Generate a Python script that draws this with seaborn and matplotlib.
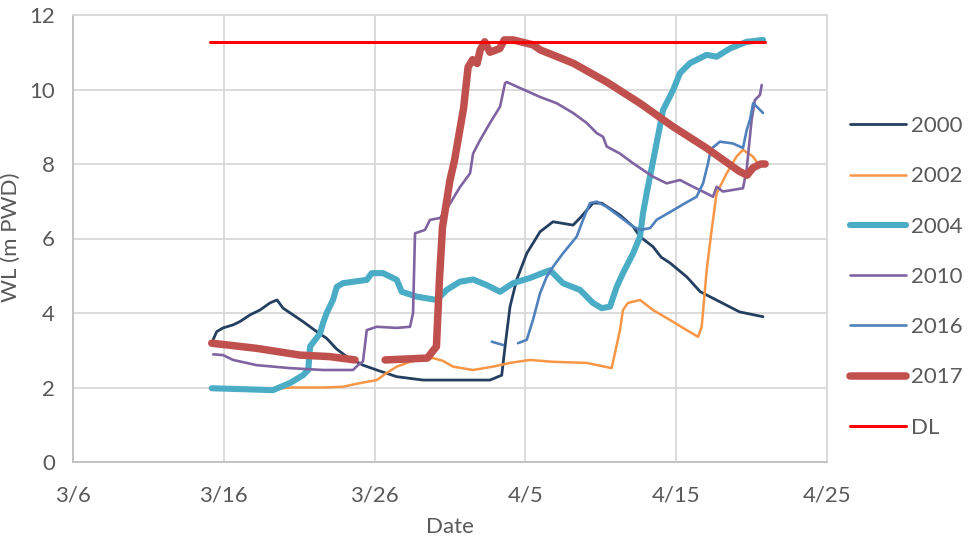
import matplotlib
matplotlib.use("Agg")
import matplotlib.pyplot as plt
import matplotlib.ticker as mticker
from matplotlib.lines import Line2D
import numpy as np
import pandas as pd
import seaborn as sns

# x values are "day of March" (April 1 = 32)
x_2000 = [15.28, 15.53, 15.95, 16.61, 17.07, 17.74, 18.4, 19.06, 19.53, 19.93, 20.59, 21.25,
          22.16, 22.82, 23.49, 24.15, 25.23, 26.14, 27.47, 29.21, 31.2, 33.65, 34.43, 34.65,
          34.98, 35.42, 36.09, 36.97, 37.83, 39.16, 39.62, 40.48, 41.06, 42.27, 43.14, 43.6,
          44.46, 45.0, 45.6, 46.7, 47.6, 48.9, 50.2, 51.76]
wl_2000 = [3.27, 3.5, 3.6, 3.68, 3.77, 3.95, 4.08, 4.27, 4.35, 4.13, 3.95, 3.77,
           3.5, 3.32, 3.03, 2.83, 2.6, 2.47, 2.29, 2.2, 2.2, 2.2, 2.33, 3.1,
           4.17, 4.89, 5.6, 6.18, 6.45, 6.36, 6.55, 6.95, 6.95, 6.63, 6.32, 6.05,
           5.78, 5.5, 5.34, 4.97, 4.57, 4.3, 4.03, 3.9]

x_2002 = [15.2, 19.3, 20.59, 22.58, 23.9, 24.81, 26.14, 26.8, 27.47, 28.35, 29.21, 29.87,
          30.5, 31.2, 32.53, 33.85, 34.98, 36.3, 37.83, 40.07, 41.72, 42.27, 42.47, 42.8,
          43.6, 44.46, 45.6, 46.7, 47.45, 47.69, 48.02, 48.35, 48.68, 49.35, 50.0, 50.43,
          51.09, 51.56]
wl_2002 = [1.97, 1.97, 2.0, 2.0, 2.02, 2.1, 2.2, 2.39, 2.56, 2.69, 2.76, 2.79,
           2.72, 2.56, 2.47, 2.56, 2.66, 2.74, 2.69, 2.66, 2.52, 3.54, 4.08, 4.27,
           4.35, 4.08, 3.81, 3.54, 3.36, 3.63, 5.15, 6.23, 7.21, 7.75, 8.2, 8.38,
           8.2, 7.93]

x_2004 = [15.2, 19.26, 20.39, 21.25, 21.6, 21.72, 22.38, 22.58, 22.82, 23.24, 23.49, 23.9,
          25.48, 25.81, 26.56, 27.47, 27.8, 28.79, 30.12, 30.78, 31.66, 32.53, 33.43, 34.32,
          35.18, 36.3, 37.63, 37.83, 38.49, 39.62, 40.48, 41.06, 41.61, 42.05, 42.47, 43.14,
          43.6, 43.8, 44.04, 44.7, 45.13, 45.8, 46.25, 46.92, 48.02, 48.68, 49.56, 50.67,
          51.76]
wl_2004 = [1.98, 1.93, 2.12, 2.33, 2.47, 3.1, 3.45, 3.73, 4.0, 4.35, 4.7, 4.8,
           4.89, 5.07, 5.07, 4.89, 4.57, 4.44, 4.35, 4.62, 4.84, 4.9, 4.75, 4.57,
           4.8, 4.94, 5.15, 5.07, 4.8, 4.62, 4.27, 4.13, 4.17, 4.7, 5.07, 5.6,
           6.05, 6.68, 7.21, 8.56, 9.45, 9.99, 10.44, 10.71, 10.93, 10.88, 11.1, 11.28,
           11.33]

x_2010 = [15.3, 15.95, 16.61, 18.18, 20.39, 22.58, 24.57, 24.9, 25.23, 25.48, 26.14, 27.47,
          28.35, 28.55, 28.68, 29.34, 29.67, 30.34, 30.87, 31.66, 32.33, 32.53, 32.99, 33.65,
          34.32, 34.65, 34.76, 36.97, 38.08, 39.16, 40.07, 40.73, 41.15, 41.39, 42.27, 43.14,
          44.46, 45.37, 46.25, 47.11, 48.02, 48.44, 48.68, 49.1, 50.43, 50.67, 51.0, 51.22,
          51.55, 51.67]
wl_2010 = [2.89, 2.87, 2.74, 2.6, 2.52, 2.47, 2.47, 2.6, 2.7, 3.54, 3.63, 3.6,
           3.63, 4.0, 6.14, 6.23, 6.5, 6.55, 6.85, 7.38, 7.75, 8.28, 8.64, 9.1,
           9.54, 10.17, 10.2, 9.8, 9.63, 9.37, 9.1, 8.83, 8.73, 8.47, 8.28, 8.02,
           7.66, 7.48, 7.57, 7.39, 7.21, 7.12, 7.39, 7.26, 7.35, 7.84, 9.18, 9.72,
           9.85, 10.12]

x_2016 = [33.77, 34.52, 35.0, 35.51, 36.09, 36.5, 36.97, 37.41, 37.83, 38.49, 39.4, 39.82,
          40.28, 40.73, 41.39, 42.27, 43.14, 43.6, 44.27, 44.7, 45.8, 46.6, 47.35, 47.78,
          48.1, 48.3, 48.9, 49.77, 50.43, 50.67, 50.9, 51.1, 51.34, 51.76]
wl_2016 = [3.23, 3.14, np.nan, 3.19, 3.28, 3.81, 4.53, 4.97, 5.24, 5.6, 6.05, 6.5,
           6.95, 6.99, 6.85, 6.58, 6.32, 6.23, 6.28, 6.5, 6.76, 6.95, 7.12, 7.48,
           8.0, 8.4, 8.6, 8.55, 8.43, 8.9, 9.2, 9.63, 9.54, 9.37]

x_2017 = [15.2, 18.2, 21.05, 23.0, 24.7, 25.7, 26.7, 29.5, 30.1, 30.3, 30.5, 31.0,
          31.3, 31.9, 32.2, 32.5, 32.8, 33.0, 33.3, 33.65, 34.3, 34.6, 35.2, 36.5,
          37.0, 38.3, 39.2, 41.4, 43.6, 45.8, 48.0, 50.2, 50.7, 51.1, 51.6, 51.9]
wl_2017 = [3.19, 3.05, 2.87, 2.83, 2.74, np.nan, 2.74, 2.79, 3.1, 4.9, 6.3, 7.57,
           8.1, 9.5, 10.6, 10.8, 10.7, 11.06, 11.28, 11.0, 11.1, 11.33, 11.33, 11.2,
           11.06, 10.85, 10.7, 10.2, 9.63, 9.0, 8.43, 7.8, 7.7, 7.9, 8.0, 8.0]

x_dl = [15.1, 51.9]
wl_dl = [11.27, 11.27]

labels = ["2000", "2002", "2004", "2010", "2016", "2017", "DL"]
xs = [x_2000, x_2002, x_2004, x_2010, x_2016, x_2017, x_dl]
ys = [wl_2000, wl_2002, wl_2004, wl_2010, wl_2016, wl_2017, wl_dl]
colors = ["#243F60", "#F79646", "#4BACC6", "#8064A2", "#4F81BD", "#C0504D", "#FF0000"]
widths = [2.0, 1.8, 4.4, 1.9, 1.9, 5.4, 2.2]

base = pd.Timestamp("2017-03-01")


def to_frame(x, y):
    df = pd.DataFrame({"day": x, "wl": y})
    df["seg"] = df["wl"].isna().cumsum()
    df = df.dropna()
    df["date"] = base + pd.to_timedelta(df["day"] - 1, unit="D")
    return df


sns.set_theme(style="white")
plt.rcParams["font.family"] = ["Lato", "DejaVu Sans"]
txt = "#595959"
fs = 16

fig = plt.figure(figsize=(9.69, 5.43), dpi=100)
ax = fig.add_axes([73 / 969, 81 / 543, 754 / 969, 447 / 543])

for lab, x, y, c, w in zip(labels, xs, ys, colors, widths):
    df = to_frame(x, y)
    sns.lineplot(data=df, x="date", y="wl", units="seg", estimator=None, sort=False,
                 color=c, linewidth=w, ax=ax, legend=False)

ax.set_xlim(pd.Timestamp("2017-03-06"), pd.Timestamp("2017-04-25"))
ax.set_ylim(0, 12)
ticks = pd.date_range("2017-03-06", "2017-04-25", freq="10D")
ax.set_xticks(ticks)
ax.set_xticklabels([f"{d.month}/{d.day}" for d in ticks])
ax.yaxis.set_major_locator(mticker.MultipleLocator(2))

ax.grid(True, color="#D9D9D9", linewidth=1.3)
for s in ax.spines.values():
    s.set_color("#D9D9D9")
    s.set_linewidth(1.3)
ax.spines["left"].set_color("#BFBFBF")
ax.spines["bottom"].set_color("#BFBFBF")

ax.tick_params(axis="both", length=0, labelsize=fs, colors=txt)
ax.tick_params(axis="x", pad=17)
ax.tick_params(axis="y", pad=13)

ax.set_xlabel("Date", fontsize=fs, color=txt, va="center")
ax.set_ylabel("WL (m PWD)", fontsize=fs, color=txt, va="center")
ax.xaxis.set_label_coords(0.5, -0.145)
ax.yaxis.set_label_coords(-0.082, 0.503)

handles = [Line2D([0], [0], color=c, linewidth=w, solid_capstyle="round")
           for c, w in zip(colors, widths)]
leg = fig.legend(handles, labels, loc="center left", bbox_to_anchor=(850 / 969, 0.49),
                 frameon=False, fontsize=fs, handlelength=2.5, handletextpad=0.25,
                 labelspacing=1.36, borderpad=0, borderaxespad=0)
for t in leg.get_texts():
    t.set_color(txt)

fig.savefig("out.png", dpi=100)
